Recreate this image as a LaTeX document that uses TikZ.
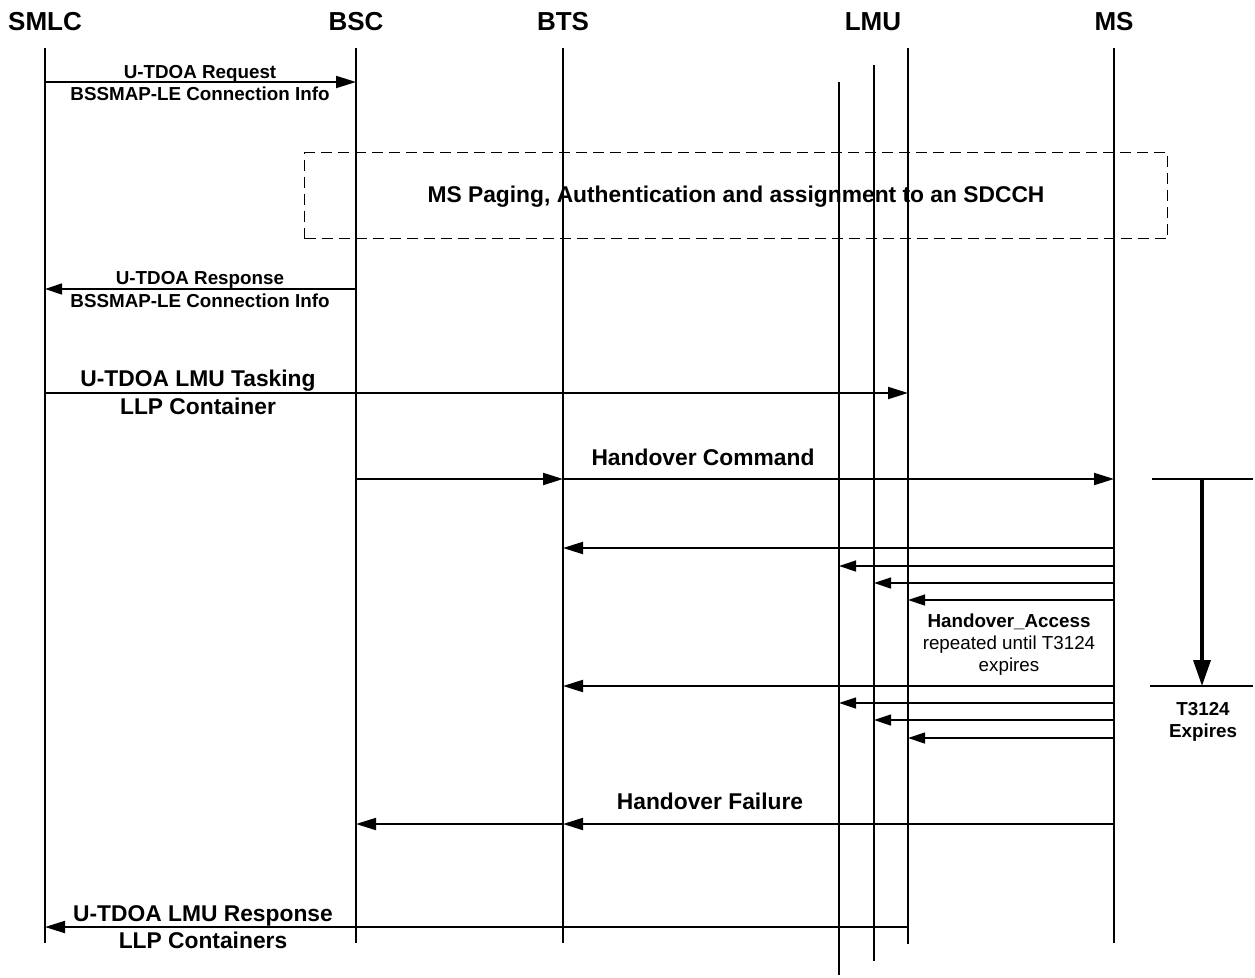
\documentclass[tikz,border=0pt]{standalone}
\usepackage{fontspec}
\setmainfont{Liberation Sans}
\usetikzlibrary{arrows.meta}

\tikzset{
  lifeline/.style={line width=2pt},
  hdr/.style={font=\fontsize{26}{30}\selectfont\bfseries, anchor=base, inner sep=0pt},
  biglbl/.style={font=\fontsize{22.8}{26}\selectfont\bfseries, anchor=base, inner sep=0pt},
  smalllbl/.style={font=\fontsize{18.8}{22}\selectfont\bfseries, anchor=base, inner sep=0pt},
  notelbl/.style={font=\fontsize{18.8}{22}\selectfont, anchor=base, inner sep=0pt},
  msg/.style={line width=2pt, -{Triangle[length=20pt,width=12pt]}},
  thinmsg/.style={line width=1.3pt, -{Triangle[length=17pt,width=11pt]}},
  plainline/.style={line width=1.3pt},
  timer/.style={line width=3.5pt, -{Triangle[length=26pt,width=17pt]}},
  procbox/.style={draw, line width=1.3pt, dash pattern=on 11pt off 6pt},
}

\begin{document}
\begin{tikzpicture}[x=1pt, y=-1pt]
\useasboundingbox (0,0) rectangle (1255,977);

% entity headers
\node[hdr] (hSMLC) at (45,30)  {SMLC};
\node[hdr] (hBSC)  at (356,30) {BSC};
\node[hdr] (hBTS)  at (563,30) {BTS};
\node[hdr] (hLMU)  at (873,30) {LMU};
\node[hdr] (hMS)   at (1114,30) {MS};

% lifeline ends
\coordinate (smlcT) at (45,48);   \coordinate (smlcB) at (45,943);
\coordinate (bscT)  at (356,48);  \coordinate (bscB)  at (356,943);
\coordinate (btsT)  at (563,48);  \coordinate (btsB)  at (563,943);
\coordinate (lmuaT) at (839,82);  \coordinate (lmuaB) at (839,975);
\coordinate (lmubT) at (874,65);  \coordinate (lmubB) at (874,961);
\coordinate (lmucT) at (908,48);  \coordinate (lmucB) at (908,944);
\coordinate (msT)   at (1114,48); \coordinate (msB)   at (1114,943);

% process box (drawn first, lifelines over it)
\node[procbox, minimum width=863pt, minimum height=86pt, anchor=north west, inner sep=0pt]
  (paging) at (304,152) {};
\node[biglbl] (pagingtxt) at (736,202) {MS Paging, Authentication and assignment to an SDCCH};

% lifelines
\draw[lifeline] (smlcT) -- (smlcB);
\draw[lifeline] (bscT) -- (bscB);
\draw[lifeline] (btsT) -- (btsB);
\draw[lifeline] (lmuaT) -- (lmuaB);
\draw[lifeline] (lmubT) -- (lmubB);
\draw[lifeline] (lmucT) -- (lmucB);
\draw[lifeline] (msT) -- (msB);

% U-TDOA request
\draw[msg] (smlcT |- 0,82) -- (bscT |- 0,82);
\node[smalllbl] (req1) at (200,78)  {U-TDOA Request};
\node[smalllbl] (req2) at (200,100) {BSSMAP-LE Connection Info};

% U-TDOA response
\draw[thinmsg] (bscT |- 0,289) -- (smlcT |- 0,289);
\node[smalllbl] (rsp1) at (200,284) {U-TDOA Response};
\node[smalllbl] (rsp2) at (200,307) {BSSMAP-LE Connection Info};

% LMU tasking
\draw[msg] (smlcT |- 0,393) -- (lmucT |- 0,393);
\node[biglbl] (task1) at (198,386) {U-TDOA LMU Tasking};
\node[biglbl] (task2) at (198,414) {LLP Container};

% handover command
\draw[msg] (bscT |- 0,479) -- (btsT |- 0,479);
\draw[msg] (btsT |- 0,479) -- (msT |- 0,479);
\node[biglbl] (hocmd) at (703,465) {Handover Command};

% T3124 timer
\coordinate (tmA) at (1152,479); \coordinate (tmB) at (1253,479);
\coordinate (tmC) at (1150,686); \coordinate (tmD) at (1253,686);
\draw[plainline] (tmA) -- (tmB);
\draw[plainline] (tmC) -- (tmD);
\draw[timer] (1202,479) -- (1202,686);
\node[smalllbl] (exp1) at (1203,715) {T3124};
\node[smalllbl] (exp2) at (1203,737) {Expires};

% handover access, first burst
\draw[msg]     (msT |- 0,548) -- (btsT |- 0,548);
\draw[thinmsg] (msT |- 0,566) -- (lmuaT |- 0,566);
\draw[thinmsg] (msT |- 0,583) -- (lmubT |- 0,583);
\draw[thinmsg] (msT |- 0,600) -- (lmucT |- 0,600);
\node[smalllbl] (acc1) at (1009,627) {Handover\_Access};
\node[notelbl]  (acc2) at (1009,649) {repeated until T3124};
\node[notelbl]  (acc3) at (1009,671) {expires};

% handover access, last burst
\draw[msg]     (msT |- 0,686) -- (btsT |- 0,686);
\draw[thinmsg] (msT |- 0,703) -- (lmuaT |- 0,703);
\draw[thinmsg] (msT |- 0,720) -- (lmubT |- 0,720);
\draw[thinmsg] (msT |- 0,738) -- (lmucT |- 0,738);

% handover failure
\draw[msg] (msT |- 0,824) -- (btsT |- 0,824);
\draw[msg] (btsT |- 0,824) -- (bscT |- 0,824);
\node[biglbl] (hofail) at (710,809) {Handover Failure};

% LMU response
\draw[msg] (lmucT |- 0,927) -- (smlcT |- 0,927);
\node[biglbl] (lrsp1) at (203,921) {U-TDOA LMU Response};
\node[biglbl] (lrsp2) at (203,948) {LLP Containers};
\end{tikzpicture}
\end{document}
